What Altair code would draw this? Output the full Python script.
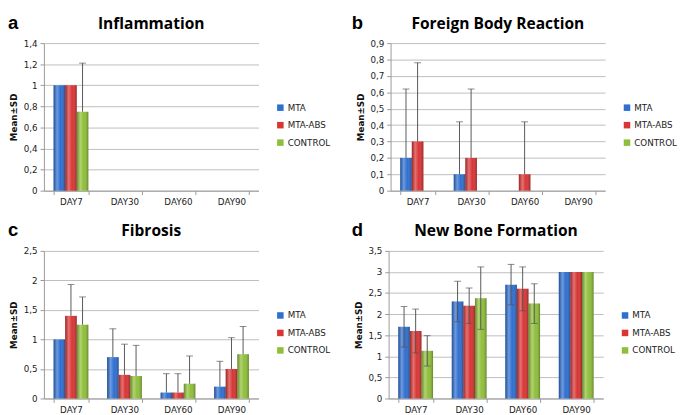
import altair as alt
import pandas as pd

days = ["DAY7", "DAY30", "DAY60", "DAY90"]
series = ["MTA", "MTA-ABS", "CONTROL"]
colors = ["#2f6fd0", "#d93535", "#8fbf3a"]

# Inflammation
infl_mta = [1.0, 0, 0, 0]
infl_abs = [1.0, 0, 0, 0]
infl_ctrl = [0.75, 0, 0, 0]
infl_mta_sd = [0, 0, 0, 0]
infl_abs_sd = [0, 0, 0, 0]
infl_ctrl_sd = [0.46, 0, 0, 0]

# Foreign Body Reaction
fbr_mta = [0.2, 0.1, 0, 0]
fbr_abs = [0.3, 0.2, 0.1, 0]
fbr_ctrl = [0, 0, 0, 0]
fbr_mta_sd = [0.42, 0.32, 0, 0]
fbr_abs_sd = [0.48, 0.42, 0.32, 0]
fbr_ctrl_sd = [0, 0, 0, 0]

# Fibrosis
fib_mta = [1.0, 0.7, 0.1, 0.2]
fib_abs = [1.4, 0.4, 0.1, 0.5]
fib_ctrl = [1.25, 0.38, 0.25, 0.75]
fib_mta_sd = [0, 0.48, 0.32, 0.43]
fib_abs_sd = [0.53, 0.52, 0.32, 0.53]
fib_ctrl_sd = [0.47, 0.52, 0.47, 0.47]

# New Bone Formation
nbf_mta = [1.7, 2.3, 2.7, 3.0]
nbf_abs = [1.6, 2.2, 2.6, 3.0]
nbf_ctrl = [1.13, 2.38, 2.25, 3.0]
nbf_mta_sd = [0.48, 0.48, 0.48, 0]
nbf_abs_sd = [0.52, 0.42, 0.52, 0]
nbf_ctrl_sd = [0.36, 0.74, 0.47, 0]

W, H = 221, 152
LABEL_FONT = "DejaVu Sans"
TITLE_FONT = "Open Sans"

shade = alt.LinearGradient(
    gradient="linear", x1=0, x2=1, y1=0, y2=0,
    stops=[
        alt.GradientStop(offset=0, color="rgba(0,0,0,0.28)"),
        alt.GradientStop(offset=0.3, color="rgba(255,255,255,0.30)"),
        alt.GradientStop(offset=0.6, color="rgba(255,255,255,0.0)"),
        alt.GradientStop(offset=1, color="rgba(0,0,0,0.30)"),
    ],
)


def panel(letter, title, vals, sds, ymax, step, both, lx):
    rows = []
    for s, v_list, sd_list in zip(series, vals, sds):
        for d, v, sd in zip(days, v_list, sd_list):
            rows.append({"day": d, "series": s, "v": v, "sd": sd,
                         "lo": (v - sd) if both else v, "hi": v + sd})
    df = pd.DataFrame(rows)
    n = int(round(ymax / step))
    ticks = [round(i * step, 2) for i in range(n + 1)]

    x = alt.X("day:N", sort=days, title=None,
              scale=alt.Scale(paddingInner=0.35, paddingOuter=0.18),
              axis=alt.Axis(labelAngle=0, tickBand="extent", labelFont=LABEL_FONT,
                            labelFontSize=9, labelColor="#222", domainColor="#999",
                            tickColor="#999", tickSize=4, labelPadding=3, grid=False))
    xo = alt.XOffset("series:N", sort=series,
                     scale=alt.Scale(domain=series, paddingInner=0, paddingOuter=0))
    yscale = alt.Scale(domain=[0, ymax], nice=False)
    yaxis = alt.Axis(values=ticks, title="Mean±SD", titleFont=LABEL_FONT,
                     titleFontSize=9, titleFontWeight="bold", titleColor="#111",
                     titlePadding=5, labelOverlap=False,
                     labelExpr="replace(format(datum.value, '.1~f'), '.', ',')",
                     labelFont=LABEL_FONT, labelFontSize=9, labelColor="#222",
                     domainColor="#999", tickColor="#999", tickSize=4,
                     gridColor="#bdbdbd", labelPadding=3)

    def Y(field):
        return alt.Y(field, scale=yscale, axis=yaxis, title="Mean±SD")

    base = alt.Chart(df)
    bars = base.mark_bar().encode(
        x=x, xOffset=xo, y=Y("v:Q"),
        color=alt.Color("series:N", sort=series,
                        scale=alt.Scale(domain=series, range=colors),
                        legend=alt.Legend(title=None, orient="none",
                                          legendX=W + 18, legendY=62,
                                          symbolType="square", symbolSize=45,
                                          symbolStrokeWidth=0,
                                          labelFont=LABEL_FONT, labelFontSize=9,
                                          labelColor="#222", rowPadding=8,
                                          labelOffset=3)),
    )
    gloss = base.mark_bar(color=shade).encode(x=x, xOffset=xo, y=Y("v:Q"))
    errs = base.transform_filter("datum.sd > 0")
    rule = errs.mark_rule(color="#555", strokeWidth=1).encode(
        x=x, xOffset=xo, y=Y("lo:Q"), y2="hi:Q")
    cap_hi = errs.mark_tick(color="#555", thickness=1, size=7, orient="horizontal").encode(
        x=x, xOffset=xo, y=Y("hi:Q"))
    layers = [bars, gloss, rule, cap_hi]
    if both:
        cap_lo = errs.mark_tick(color="#555", thickness=1, size=7, orient="horizontal").encode(
            x=x, xOffset=xo, y=Y("lo:Q"))
        layers.append(cap_lo)
    tdf = pd.DataFrame({"letter": [letter], "title": [title]})
    lab = alt.Chart(tdf).mark_text(
        font="Liberation Sans", fontSize=19, fontWeight="bold", align="left",
        baseline="alphabetic", color="#000").encode(
        text="letter:N", x=alt.value(lx), y=alt.value(-15))
    ttl = alt.Chart(tdf).mark_text(
        font=TITLE_FONT, fontSize=16, fontWeight="bold", align="center",
        baseline="alphabetic", color="#000").encode(
        text="title:N", x=alt.value(W / 2), y=alt.value(-15))
    layers += [lab, ttl]
    return alt.layer(*layers).properties(width=W, height=H)


pa = panel("a", "Inflammation",
           [infl_mta, infl_abs, infl_ctrl], [infl_mta_sd, infl_abs_sd, infl_ctrl_sd],
           1.4, 0.2, False, -37)
pb = panel("b", "Foreign Body Reaction",
           [fbr_mta, fbr_abs, fbr_ctrl], [fbr_mta_sd, fbr_abs_sd, fbr_ctrl_sd],
           0.9, 0.1, False, -40)
pc = panel("c", "Fibrosis",
           [fib_mta, fib_abs, fib_ctrl], [fib_mta_sd, fib_abs_sd, fib_ctrl_sd],
           2.5, 0.5, False, -37)
pd_ = panel("d", "New Bone Formation",
            [nbf_mta, nbf_abs, nbf_ctrl], [nbf_mta_sd, nbf_abs_sd, nbf_ctrl_sd],
            3.5, 0.5, True, -38)

res = dict(x="independent", y="independent", color="independent")
top = alt.hconcat(pa, pb, spacing=22).resolve_scale(**res)
bottom = alt.hconcat(pc, pd_, spacing=22).resolve_scale(**res)
chart = alt.vconcat(top, bottom, spacing=16).resolve_scale(**res).properties(
    padding=0, background="white"
).configure_view(stroke=None)

chart.save("out.html", embed_options={"renderer": "svg", "actions": False})
